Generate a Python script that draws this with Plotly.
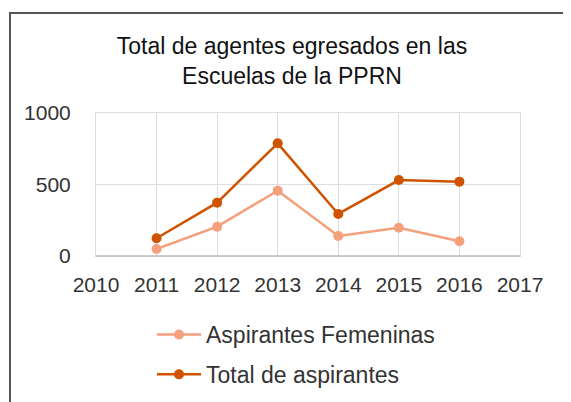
import plotly.graph_objects as go

years = [2011, 2012, 2013, 2014, 2015, 2016]
femeninas = [49, 205, 457, 140, 198, 103]
total = [124, 373, 788, 294, 531, 520]
x_ticks = [2010, 2011, 2012, 2013, 2014, 2015, 2016, 2017]
y_ticks = [0, 500, 1000]

c_fem = "#f5a07c"
c_tot = "#d05400"

fig = go.Figure()
fig.add_trace(go.Scatter(x=years, y=femeninas, name="Aspirantes Femeninas",
                         mode="lines+markers", legendgroup="a",
                         line=dict(color=c_fem, width=2.5),
                         marker=dict(color=c_fem, size=10)))
fig.add_trace(go.Scatter(x=years, y=total, name="Total de aspirantes",
                         mode="lines+markers", legendgroup="b",
                         line=dict(color=c_tot, width=2.5),
                         marker=dict(color=c_tot, size=10)))

# page body has an 8px margin; figure coordinates = screen - 8
W, H = 563, 394
L, T = 88, 105
R = W - 512
B = H - 248
pw, ph = W - L - R, H - T - B

def px_x(p):
    return (p - L) / pw

def px_y(p):
    return 1 - (p - T) / ph

fig.update_layout(
    width=W, height=H,
    margin=dict(l=L, r=R, t=T, b=B, pad=0, autoexpand=False),
    paper_bgcolor="white", plot_bgcolor="white",
    font=dict(family="Liberation Sans, Arial, sans-serif", color="#333333"),
    title=dict(text="Total de agentes egresados en las<br>Escuelas de la PPRN",
               x=284 / W, xanchor="center", xref="container",
               y=1 - 46 / H, yanchor="top", yref="container",
               font=dict(size=23, color="#111111")),
    xaxis=dict(range=[2010, 2017], tickvals=x_ticks, ticktext=[str(v) for v in x_ticks],
               showgrid=True, gridcolor="#dddddd", gridwidth=1,
               showline=True, linecolor="#dddddd", mirror=True,
               zeroline=False, ticks="", tickfont=dict(size=21, color="#333333"),
               ticklabelstandoff=10, automargin=False, fixedrange=True),
    yaxis=dict(range=[0, 1000], tickvals=y_ticks,
               showgrid=True, gridcolor="#dddddd", gridwidth=1,
               showline=True, linecolor="#dddddd", mirror=True,
               zeroline=False, ticks="", tickfont=dict(size=21, color="#333333"),
               ticklabelstandoff=20, automargin=False, fixedrange=True),
    legend=dict(x=px_x(144), xanchor="left", y=px_y(305), yanchor="top",
                orientation="v", traceorder="grouped", tracegroupgap=7,
                itemwidth=44,
                font=dict(size=23, color="#333333"), bgcolor="rgba(0,0,0,0)"),
    showlegend=True,
    shapes=[
        dict(type="line", xref="paper", yref="paper",
             x0=px_x(1), x1=px_x(600), y0=px_y(5), y1=px_y(5),
             line=dict(color="#555555", width=2)),
        dict(type="line", xref="paper", yref="paper",
             x0=px_x(2), x1=px_x(2), y0=px_y(5), y1=px_y(410),
             line=dict(color="#555555", width=2)),
        dict(type="line", xref="paper", yref="paper",
             x0=px_x(562), x1=px_x(562), y0=px_y(5), y1=px_y(410),
             line=dict(color="#eeeeee", width=1)),
        dict(type="line", xref="paper", yref="paper",
             x0=0, x1=1, y0=0, y1=0,
             line=dict(color="#bbbbbb", width=1.5)),
    ],
)

fig.write_html("out.html")
